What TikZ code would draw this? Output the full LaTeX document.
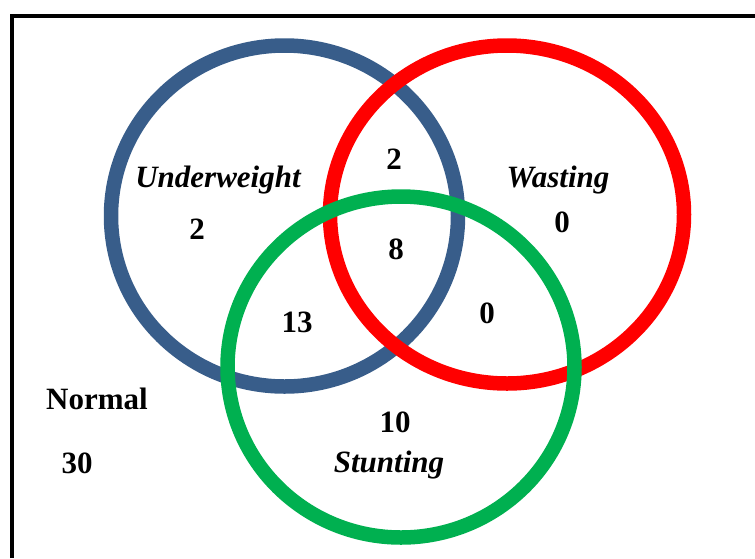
\documentclass[tikz,border=0pt]{standalone}
\usepackage{fontspec}
\setmainfont{Liberation Serif}
\definecolor{uwblue}{RGB}{56,93,138}
\definecolor{wsred}{RGB}{255,0,0}
\definecolor{stgreen}{RGB}{0,176,80}
\tikzset{
  ring/.style={line width=14.5pt},
  lbl/.style={font=\fontsize{31}{36}\selectfont\bfseries\itshape, inner sep=0pt},
  num/.style={font=\fontsize{31}{36}\selectfont\bfseries, inner sep=0pt}
}

\begin{document}
\begin{tikzpicture}[x=1pt, y=-1pt]
  \useasboundingbox (0,0) rectangle (755,558);
  % frame
  \draw[line width=4.5pt] (12,558)--(12,16)--(755,16);
  % sets
  \draw[ring, uwblue] (284.5,216) ellipse[x radius=173.5, y radius=170.5];
  \draw[ring, wsred] (507,214.5) ellipse[x radius=177, y radius=169];
  \draw[ring, stgreen] (401,367) ellipse[x radius=173.5, y radius=170.5];
  % labels
  \node[lbl] (uw) at (218,180) {Underweight};
  \node[lbl] (ws) at (558,180) {Wasting};
  \node[lbl] (st) at (389,465) {Stunting};
  \node[num] (nuw) at (197,229) {2};
  \node[num] (nuwws) at (394,159) {2};
  \node[num] (nws) at (562,222) {0};
  \node[num] (nall) at (396,249) {8};
  \node[num] (nuwst) at (297,322) {13};
  \node[num] (nwsst) at (487,313) {0};
  \node[num] (nst) at (395,422) {10};
  \node[num] (normal) at (97,399) {Normal};
  \node[num] (nnormal) at (77,463) {30};
\end{tikzpicture}
\end{document}
